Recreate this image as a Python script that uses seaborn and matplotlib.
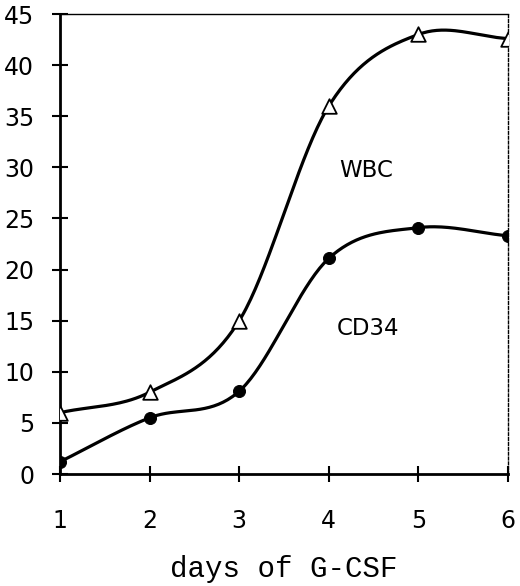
import numpy as np
import pandas as pd
import seaborn as sns
import matplotlib.pyplot as plt

sns.set_theme(style="white")
plt.rcParams["font.family"] = ["DejaVu Sans"]
plt.rcParams["text.color"] = "black"

days = [1, 2, 3, 4, 5, 6]
wbc = [6.0, 8.0, 15.0, 36.0, 43.0, 42.6]
cd34 = [1.2, 5.5, 8.1, 21.1, 24.1, 23.3]


def catmull_rom(x, y, n=40):
    # smooth drawing path through the measured points (display only)
    x = np.asarray(x, float)
    y = np.asarray(y, float)
    px = np.concatenate([[2 * x[0] - x[1]], x, [2 * x[-1] - x[-2]]])
    py = np.concatenate([[2 * y[0] - y[1]], y, [2 * y[-1] - y[-2]]])
    xs, ys = [], []
    t = np.linspace(0, 1, n)
    for i in range(1, len(px) - 2):
        for p, out in ((px, xs), (py, ys)):
            p0, p1, p2, p3 = p[i - 1], p[i], p[i + 1], p[i + 2]
            out.extend(0.5 * ((2 * p1) + (-p0 + p2) * t
                              + (2 * p0 - 5 * p1 + 4 * p2 - p3) * t ** 2
                              + (-p0 + 3 * p1 - 3 * p2 + p3) * t ** 3))
    return np.array(xs), np.array(ys)


pts = pd.DataFrame({"day": days, "WBC": wbc, "CD34": cd34})

fig = plt.figure(figsize=(5.2, 5.86), dpi=100)
ax = fig.add_axes([0.1154, 0.1911, 0.8616, 0.785])

for col in ["WBC", "CD34"]:
    sx, sy = catmull_rom(pts["day"], pts[col])
    sns.lineplot(x=sx, y=sy, sort=False, color="black", lw=2.3, ax=ax, zorder=2)

sns.scatterplot(data=pts, x="day", y="WBC", marker="^", s=110, color="white",
                edgecolor="black", linewidth=1.3, ax=ax, zorder=3)
sns.scatterplot(data=pts, x="day", y="CD34", marker="o", s=75, color="black",
                edgecolor="black", ax=ax, zorder=3)

ax.text(4.42, 29.7, "WBC", fontsize=16.5, ha="center", va="center", color="black")
ax.text(4.44, 14.2, "CD34", fontsize=16.5, ha="center", va="center", color="black")

ax.set_xlim(1, 6)
ax.set_ylim(0, 45)
ax.set_xticks(days)
ax.set_yticks(range(0, 46, 5))
ax.tick_params(direction="inout", length=12, width=1.5, color="black",
               labelsize=17, labelcolor="black", left=True, bottom=True)
ax.tick_params(axis="x", pad=19)
ax.tick_params(axis="y", pad=12.5)
ax.set_xlabel("days of G-CSF", family=["Liberation Mono", "DejaVu Sans Mono"],
              fontsize=21, labelpad=16, color="black")
ax.set_ylabel("")

for side in ["left", "bottom"]:
    ax.spines[side].set_linewidth(2)
    ax.spines[side].set_color("black")
ax.spines["top"].set_linewidth(1)
ax.spines["top"].set_color("black")
ax.spines["right"].set_linewidth(1)
ax.spines["right"].set_color("black")
ax.spines["right"].set_linestyle((0, (2, 1.5)))

fig.savefig("out.png", dpi=100)
